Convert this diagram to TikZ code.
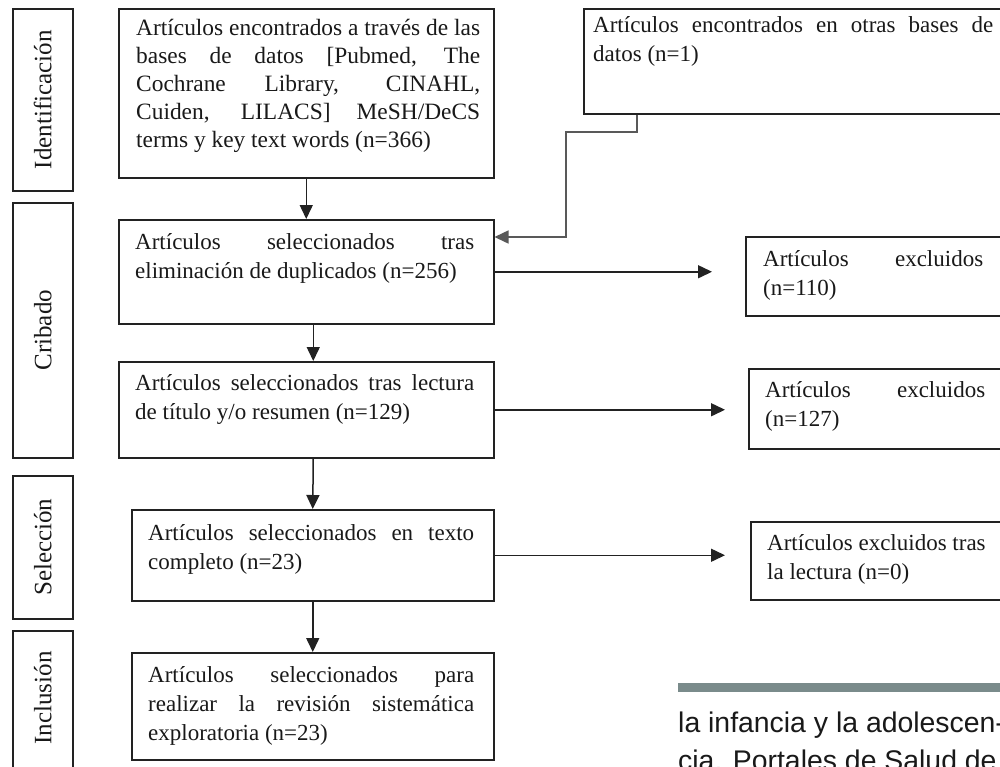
\documentclass[tikz,border=0pt]{standalone}
\usepackage{fontspec}
\setmainfont{Liberation Serif}
\newfontfamily\bodysans{Liberation Sans}
\usetikzlibrary{arrows.meta,calc}
\definecolor{barcol}{HTML}{7A8B8B}
\definecolor{linecol}{HTML}{222222}
\newcommand{\jline}[1]{\makebox[\linewidth][s]{#1}\\}
\tikzset{
  box/.style={draw=linecol, line width=1.5pt, rectangle, inner sep=0pt, anchor=north west},
  txt/.style={inner sep=0pt, anchor=base west, font=\fontsize{23}{29}\selectfont, text=black!90},
  stage/.style={inner sep=0pt, rotate=90, font=\fontsize{25}{30}\selectfont, text=black!90},
  conn/.style={draw=linecol, line width=1.5pt},
  arr/.style={conn, -{Triangle[length=14pt,width=13pt]}},
}
\begin{document}
\begin{tikzpicture}[x=1pt,y=-1pt]
\useasboundingbox (0,0) rectangle (1000,766);
\clip (0,0) rectangle (1000,766);
\fill[white] (0,0) rectangle (1000,766);

% stage boxes
\node[box, minimum width=60pt, minimum height=182pt] (s1) at (12,8) {};
\node[box, minimum width=60pt, minimum height=255pt] (s2) at (12,202) {};
\node[box, minimum width=60pt, minimum height=143pt] (s3) at (12,475) {};
\node[box, minimum width=60pt, minimum height=160pt] (s4) at (12,630) {};
\node[stage] (l1) at (s1.center) {Identificación};
\node[stage] (l2) at (s2.center) {Cribado};
\node[stage] (l3) at (s3.center) {Selección};
\node[stage] (l4) at ($(s4.north)+(0,68)$) {Inclusión};

% main boxes
\node[box, minimum width=375pt, minimum height=169pt] (b1) at (118,8) {};
\node[box, minimum width=427pt, minimum height=105pt] (o) at (583,8) {};
\node[box, minimum width=375pt, minimum height=104pt] (b2) at (118,219) {};
\node[box, minimum width=375pt, minimum height=96pt] (b3) at (118,361) {};
\node[box, minimum width=362pt, minimum height=91pt] (b4) at (131,509) {};
\node[box, minimum width=362pt, minimum height=107pt] (b5) at (131,652) {};
\node[box, minimum width=262pt, minimum height=79pt] (e1) at (745,236) {};
\node[box, minimum width=262pt, minimum height=80pt] (e2) at (748,368) {};
\node[box, minimum width=262pt, minimum height=78pt] (e3) at (750,521) {};

% texts
\node[txt, font=\fontsize{23.4}{28}\selectfont] (t1) at (136,35) {\parbox[t]{344pt}{%
\jline{Artículos encontrados a través de las}
\jline{bases de datos [Pubmed, The}
\jline{Cochrane Library, CINAHL,}
\jline{Cuiden, LILACS] MeSH/DeCS}
terms y key text words (n=366)}};
\node[txt] (to) at (593,32) {\parbox[t]{400pt}{%
\jline{Artículos encontrados en otras bases de}
datos (n=1)}};
\node[txt] (t2) at (135,249) {\parbox[t]{339pt}{%
\jline{Artículos seleccionados tras}
eliminación de duplicados (n=256)}};
\node[txt] (t3) at (135,390) {\parbox[t]{339pt}{%
\jline{Artículos seleccionados tras lectura}
de título y/o resumen (n=129)}};
\node[txt] (t4) at (148,540) {\parbox[t]{326pt}{%
\jline{Artículos seleccionados en texto}
completo (n=23)}};
\node[txt] (t5) at (148,682) {\parbox[t]{326pt}{%
\jline{Artículos seleccionados para}
\jline{realizar la revisión sistemática}
exploratoria (n=23)}};
\node[txt] (te1) at (763,266) {\parbox[t]{220pt}{%
\jline{Artículos excluidos}
(n=110)}};
\node[txt] (te2) at (765,397) {\parbox[t]{220pt}{%
\jline{Artículos excluidos}
(n=127)}};
\node[txt] (te3) at (767,550) {\parbox[t]{222pt}{%
Artículos excluidos tras\\
la lectura (n=0)}};

% vertical connectors
\draw[arr] (b1.south) -- (b2.north);
\draw[arr] ([xshift=7pt]b2.south) -- ([xshift=7pt]b3.north);
\draw[arr] ([xshift=7pt]b3.south) -- (b4.north);
\draw[arr] (b4.south) -- (b5.north);

% horizontal connectors to excluded boxes
\coordinate (a1) at ([xshift=-33pt]b2.east -| e1.west);
\coordinate (a2) at ([xshift=-23pt]b3.east -| e2.west);
\coordinate (a3) at ([xshift=-25pt]b4.east -| e3.west);
\draw[arr] (b2.east) -- (a1);
\draw[arr] (b3.east) -- (a2);
\draw[arr] (b4.east) -- (a3);

% connector from other databases
\coordinate (k0) at ([xshift=54pt]o.south west);
\coordinate (k1) at (566,132);
\coordinate (k2) at ([yshift=-18pt]b2.north east);
\draw[arr, draw=black!65] (k0) |- (k1) |- (k2);

% page text
\fill[barcol] (678,683) rectangle (1000,692);
\node[inner sep=0pt, anchor=base west, font=\bodysans\fontsize{28.4}{38}\selectfont, text=black!90] (p1) at (678,732) {la infancia y la adolescen-};
\node[inner sep=0pt, anchor=base west, font=\bodysans\fontsize{28.4}{38}\selectfont, text=black!90] (p2) at (678,770) {cia. Portales de Salud de};
\end{tikzpicture}
\end{document}
